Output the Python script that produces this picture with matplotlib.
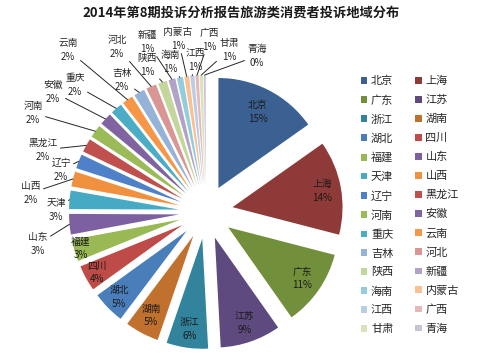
import math

import matplotlib
matplotlib.use('Agg')
import matplotlib.pyplot as plt

plt.rcParams['font.family'] = ['Noto Sans CJK SC', 'DejaVu Sans']

provinces = ['北京', '上海', '广东', '江苏', '浙江', '湖南', '湖北', '四川', '福建', '山东',
             '天津', '山西', '辽宁', '黑龙江', '河南', '安徽', '重庆', '云南', '吉林', '河北',
             '陕西', '新疆', '海南', '内蒙古', '江西', '广西', '甘肃', '青海']
shares = [15.2, 13.8, 11.2, 8.9, 6.1, 5.0, 4.8, 3.8, 3.2, 3.0,
          2.7, 2.2, 2.1, 2.0, 1.9, 1.8, 1.7, 1.6, 1.6, 1.5,
          1.3, 1.0, 0.9, 0.7, 0.6, 0.5, 0.5, 0.3]
colors = ['#3b6193', '#8e3a38', '#728f3c', '#5e4a7e', '#31849b', '#c0712e', '#4a7ebb', '#be4b48',
          '#98b954', '#7d60a0', '#46aac5', '#f0913f', '#4f81c8', '#c0504d', '#9bbb59', '#8064a2',
          '#4bacc6', '#f79646', '#95b3d7', '#d99694', '#c3d69b', '#b3a2c7', '#93cddd', '#fac090',
          '#b9cde5', '#e6b9b8', '#d7e4bd', '#ccc1da']

# slices labelled on the wedge itself, with radial position as fraction of radius
inside_pos = [0.78, 0.83, 0.82, 0.82, 0.83, 0.82, 0.86, 0.89, 0.94]
# pixel positions (x, y from top) of the labels outside the pie
outside_pos = [(38, 244), (56, 210), (31, 193), (61, 170), (43, 150), (33, 113), (53, 92),
               (75, 85), (68, 50), (122, 80), (117, 47), (147, 65), (147, 42), (170, 62),
               (178, 39), (195, 60), (209, 40), (229, 50), (257, 56)]

W, H = 500, 356
fig = plt.figure(figsize=(W / 100, H / 100), dpi=100)
ax = fig.add_axes([0, 0, 1, 1])

radius = 110
wedges, _ = ax.pie(shares, colors=colors, startangle=90, counterclock=False,
                   explode=[27] * len(shares), radius=radius, center=(206, H - 212),
                   wedgeprops=dict(linewidth=0))

ax.set_xlim(0, W)
ax.set_ylim(0, H)
ax.set_aspect('equal')
ax.axis('off')

total = sum(shares)
for i, w in enumerate(wedges):
    pct = '{:.0f}%'.format(round(shares[i] / total * 100))
    label = '{}\n{}'.format(provinces[i], pct)
    mid = math.radians((w.theta1 + w.theta2) / 2)
    cx, cy = w.center
    if i < len(inside_pos):
        f = inside_pos[i]
        ax.text(cx + f * radius * math.cos(mid), cy + f * radius * math.sin(mid), label,
                ha='center', va='center', fontsize=7, color='#1a1a1a', linespacing=1.45)
    else:
        lx, ly = outside_pos[i - len(inside_pos)]
        edge = (cx + radius * math.cos(mid), cy + radius * math.sin(mid))
        ax.annotate(label, xy=edge, xytext=(lx, H - ly), ha='center', va='center',
                    fontsize=7, color='#262626', linespacing=1.45,
                    arrowprops=dict(arrowstyle='-', color='#262626', lw=0.7,
                                    shrinkA=0, shrinkB=0))

order = list(range(0, len(wedges), 2)) + list(range(1, len(wedges), 2))
ax.legend([wedges[i] for i in order], [provinces[i] for i in order],
          loc='upper left', bbox_to_anchor=(361 / W, 1 - 76 / H), ncol=2,
          frameon=False, fontsize=8, handlelength=0.55, handleheight=0.55,
          handletextpad=0.35, labelspacing=0.79, columnspacing=2.0,
          borderaxespad=0, borderpad=0, labelcolor='#262626')

fig.text(241 / W, 1 - 13 / H, '2014年第8期投诉分析报告旅游类消费者投诉地域分布',
         ha='center', va='center', fontsize=9.5, fontweight='bold', color='#1a1a1a')

fig.savefig('out.png', dpi=100)
